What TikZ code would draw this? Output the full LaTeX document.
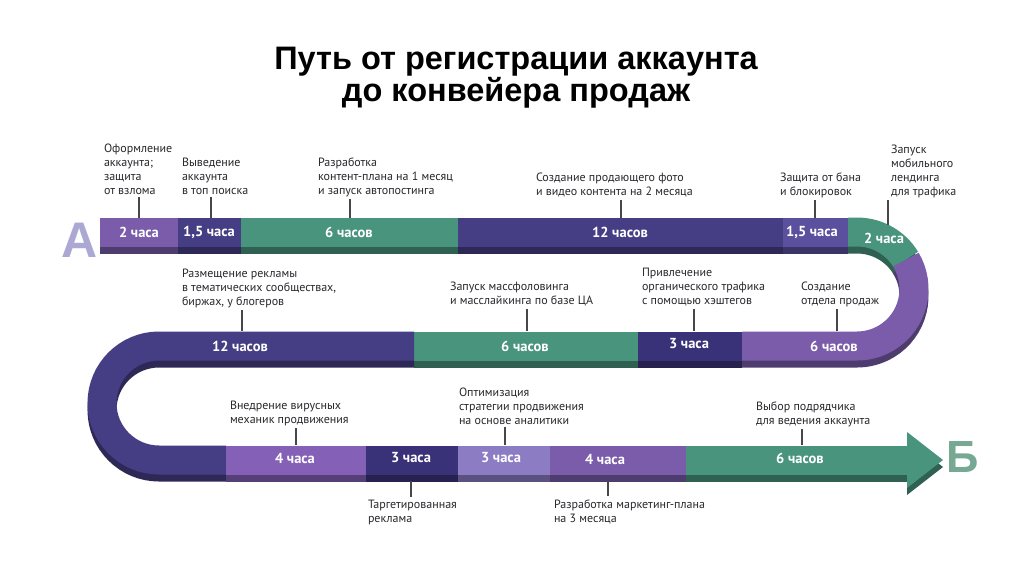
\documentclass[tikz,border=0pt]{standalone}
\usepackage{fontspec}
\setmainfont{PT Sans}
\newfontfamily\headfont{Liberation Sans}
\usetikzlibrary{calc}
\definecolor{TextColor}{RGB}{40,40,45}
\definecolor{TickColor}{RGB}{70,70,75}
\definecolor{Plum}{RGB}{122,92,170}
\definecolor{Indigo}{RGB}{70,62,132}
\definecolor{Navy}{RGB}{58,50,120}
\definecolor{Midblue}{RGB}{90,80,158}
\definecolor{Teal}{RGB}{72,148,124}
\definecolor{Lilac}{RGB}{132,97,182}
\definecolor{Lavender}{RGB}{140,124,196}
\definecolor{LetterA}{RGB}{172,168,212}
\definecolor{LetterB}{RGB}{118,168,148}
\tikzset{
  band/.style={line width=29pt},
  face/.style={color=#1},
  shadow/.style={color=#1!65!black, yshift=-7pt},
  hrs/.style={text=white, font=\bfseries\fontsize{14.5}{15}\selectfont, inner sep=0pt},
  note/.style={align=left, anchor=base west, text=TextColor, font=\fontsize{12}{14}\selectfont, inner sep=0pt, outer sep=3pt},
  tick/.style={line width=1.1pt, TickColor},
  letter/.style={font=\headfont\bfseries\fontsize{50}{50}\selectfont, inner sep=0pt},
  heading/.style={align=center, anchor=base, text=black, font=\headfont\bfseries\fontsize{32.5}{32}\selectfont, inner sep=0pt}
}
% the whole track, once for its shadow and once for its face
\newcommand{\drawtrack}[1]{%
  \draw[band,#1=Plum] (100,232) -- (178,232);
  \draw[band,#1=Indigo] (178,232) -- (241,232);
  \draw[band,#1=Teal] (241,232) -- (458,232);
  \draw[band,#1=Indigo] (458,232) -- (783,232);
  \draw[band,#1=Midblue] (783,232) -- (848,232);
  \draw[band,#1=Teal] (848,232) -- (857,232) arc[start angle=-90, end angle=-31, radius=57];
  \draw[band,#1=Plum] (857,289) ++(-31:57) arc[start angle=-31, end angle=90, radius=57] -- (742,346);
  \draw[band,#1=Navy] (742,346) -- (638,346);
  \draw[band,#1=Teal] (638,346) -- (414,346);
  \draw[band,#1=Indigo] (414,346) -- (159,346) arc[start angle=-90, end angle=-270, radius=57] -- (226,460);
  \draw[band,#1=Lilac] (226,460) -- (366,460);
  \draw[band,#1=Navy] (366,460) -- (458,460);
  \draw[band,#1=Lavender] (458,460) -- (550,460);
  \draw[band,#1=Plum] (550,460) -- (686,460);
  \draw[band,#1=Teal] (686,460) -- (908,460);
  \fill[#1=Teal] (907,432) -- (943,460) -- (907,488) -- cycle;
}
\begin{document}
\begin{tikzpicture}[x=1pt,y=-1pt]
  \useasboundingbox (0,0) rectangle (1024,574);
  \fill[white] (0,0) rectangle (1024,574);

  % Title
  \node[heading] (title) at (516,101) {Путь от регистрации аккаунта\\до конвейера продаж};

  % Track
  \drawtrack{shadow}
  \drawtrack{face}

  % Start and finish
  \node[letter, text=LetterA] (start) at (80,240) {А};
  \node[letter, text=LetterB, font=\headfont\bfseries\fontsize{45}{45}\selectfont] (finish) at (963,457) {Б};

  % Hours on the track
  \node[hrs] (s1) at (139,232) {2 часа};
  \node[hrs] (s2) at (209,232) {1,5 часа};
  \node[hrs] (s3) at (349,232) {6 часов};
  \node[hrs] (s4) at (620,232) {12 часов};
  \node[hrs] (s5) at (812,232) {1,5 часа};
  \node[hrs] (s6) at (884,238) {2 часа};
  \node[hrs] (s7) at (240,346) {12 часов};
  \node[hrs] (s8) at (525,346) {6 часов};
  \node[hrs] (s9) at (689,344) {3 часа};
  \node[hrs] (s10) at (834,346) {6 часов};
  \node[hrs] (s11) at (295,458) {4 часа};
  \node[hrs] (s12) at (411,458) {3 часа};
  \node[hrs] (s13) at (501,458) {3 часа};
  \node[hrs] (s14) at (605,459) {4 часа};
  \node[hrs] (s15) at (800,458) {6 часов};

  % Steps, first row
  \node[note] (l1) at (101,194) {Оформление\\аккаунта;\\защита\\от взлома};
  \node[note] (l2) at (179,194) {Выведение\\аккаунта\\в топ поиска};
  \node[note] (l3) at (315,194) {Разработка\\контент-плана на 1 месяц\\и запуск автопостинга};
  \node[note] (l4) at (533,195) {Создание продающего фото\\и видео контента на 2 месяца};
  \node[note] (l5) at (777,195) {Защита от бана\\и блокировок};
  \node[note] (l6) at (888,195) {Запуск\\мобильного\\лендинга\\для трафика};

  % Steps, second row
  \node[note] (l7) at (179,305) {Размещение рекламы\\в тематических сообществах,\\биржах, у блогеров};
  \node[note] (l8) at (447,304) {Запуск массфоловинга\\и масслайкинга по базе ЦА};
  \node[note] (l9) at (639,304) {Привлечение\\органического трафика\\с помощью хэштегов};
  \node[note] (l10) at (798,304) {Создание\\отдела продаж};

  % Steps, third row
  \node[note] (l11) at (227,423) {Внедрение вирусных\\механик продвижения};
  \node[note] (l12) at (365,522) {Таргетированная\\реклама};
  \node[note] (l13) at (456,424) {Оптимизация\\стратегии продвижения\\на основе аналитики};
  \node[note] (l14) at (551,522) {Разработка маркетинг-плана\\на 3 месяца};
  \node[note] (l15) at (753,424) {Выбор подрядчика\\для ведения аккаунта};

  % Ticks from the track to the steps
  \coordinate (k1) at (139,218);
  \coordinate (k2) at (211,218);
  \coordinate (k3) at (350,218);
  \coordinate (k4) at (621,218);
  \coordinate (k5) at (815,218);
  \coordinate (k6) at (888,225);
  \coordinate (k7) at (242,331);
  \coordinate (k8) at (527,331);
  \coordinate (k9) at (694,331);
  \coordinate (k10) at (837,331);
  \coordinate (k11) at (296,445);
  \coordinate (k12) at (411,481);
  \coordinate (k13) at (505,445);
  \coordinate (k14) at (608,481);
  \coordinate (k15) at (802,445);
  \foreach \i in {1,...,11,13,15} {
    \draw[tick] (k\i) -- (k\i |- l\i.south);
  }
  \foreach \i in {12,14} {
    \draw[tick] (k\i) -- (k\i |- l\i.north);
  }
\end{tikzpicture}
\end{document}
